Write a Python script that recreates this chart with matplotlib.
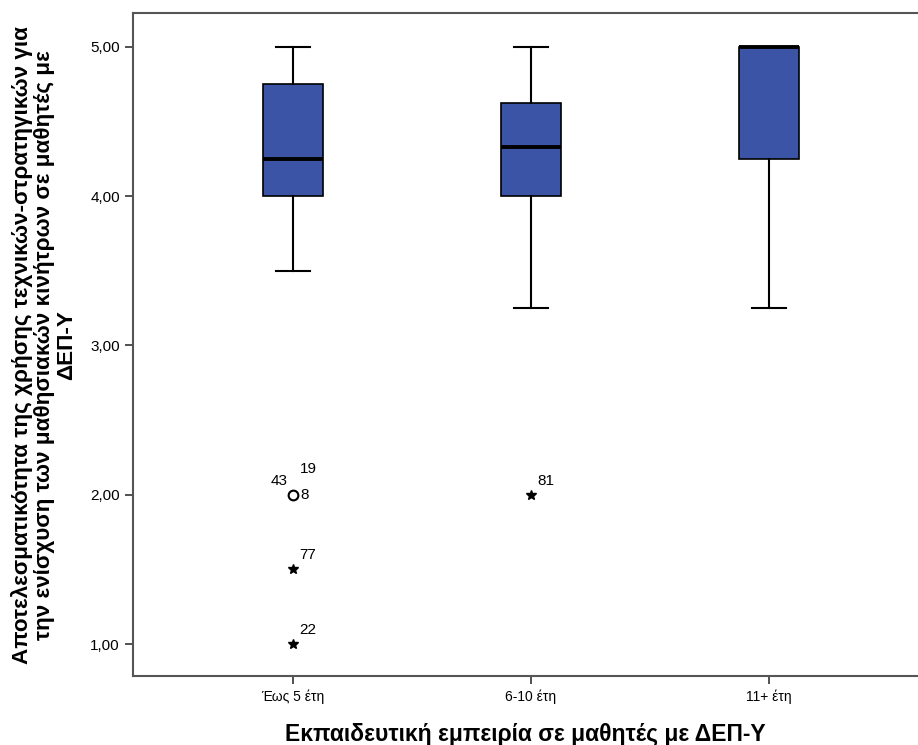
import matplotlib
matplotlib.use("Agg")
import matplotlib.pyplot as plt

categories = ["Έως 5 έτη", "6-10 έτη", "11+ έτη"]
medians = [4.25, 4.33, 5.00]
q1s = [4.00, 4.00, 4.25]
q3s = [4.75, 4.625, 5.00]
whisker_lo = [3.50, 3.25, 3.25]
whisker_hi = [5.00, 5.00, 5.00]

# outliers: (group index, value, label text list, marker)
outlier_group = [0, 0, 0, 1]
outlier_value = [2.0, 1.5, 1.0, 2.0]
outlier_kind = ["o", "*", "*", "*"]
outlier_labels = [["8", "19", "43"], ["77"], ["22"], ["81"]]

yticks = [1.0, 2.0, 3.0, 4.0, 5.0]
ytick_labels = ["1,00", "2,00", "3,00", "4,00", "5,00"]

plt.rcParams['font.family'] = ['Liberation Sans', 'DejaVu Sans']

fig = plt.figure(figsize=(9.18, 7.45), dpi=100)
ax = fig.add_axes([133/918, 1-676/745, (918-133)/918, (676-13)/745])

positions = [1, 2, 3]
stats = []
for i in range(3):
    stats.append(dict(med=medians[i], q1=q1s[i], q3=q3s[i],
                      whislo=whisker_lo[i], whishi=whisker_hi[i], fliers=[]))

ax.bxp(stats, positions=positions, widths=0.25, showfliers=False,
       patch_artist=True,
       boxprops=dict(facecolor="#3b54a5", edgecolor="black", linewidth=1.2),
       medianprops=dict(color="black", linewidth=2.8, solid_capstyle="butt"),
       whiskerprops=dict(color="black", linewidth=1.5),
       capprops=dict(color="black", linewidth=1.5),
       capwidths=0.14)

for g, v, k, labs in zip(outlier_group, outlier_value, outlier_kind, outlier_labels):
    x = positions[g]
    if k == "o":
        ax.plot([x], [v], marker="o", markersize=7, markerfacecolor="white",
                markeredgecolor="black", markeredgewidth=1.5, linestyle="none")
        ax.annotate(labs[0], (x, v), xytext=(7, 0), textcoords="offset pixels",
                    fontsize=11, ha="left", va="center")
        ax.annotate(labs[1], (x, v), xytext=(7, 26), textcoords="offset pixels",
                    fontsize=11, ha="left", va="center")
        ax.annotate(labs[2], (x, v), xytext=(-5, 14), textcoords="offset pixels",
                    fontsize=11, ha="right", va="center")
    else:
        ax.plot([x], [v], marker="*", markersize=7, color="black", linestyle="none")
        ax.annotate(labs[0], (x, v), xytext=(6, 14), textcoords="offset pixels",
                    fontsize=11, ha="left", va="center")

ax.set_xlim(0.328, 3.626)
ax.set_ylim(0.786, 5.227)
ax.set_xticks(positions)
ax.set_xticklabels(categories, fontsize=10)
ax.set_yticks(yticks)
ax.set_yticklabels(ytick_labels, fontsize=11)
ax.tick_params(direction="out", length=6, width=1.2, color="#333333")
for s in ["left", "top", "bottom"]:
    ax.spines[s].set_linewidth(1.5)
    ax.spines[s].set_color("#555555")
ax.spines["right"].set_visible(False)

fig.text(525/918, 1-735/745, "Εκπαιδευτική εμπειρία σε μαθητές με ΔΕΠ-Υ",
         fontsize=16.5, fontweight="bold", ha="center", va="center")
fig.text(44/918, 1-345/745,
         "Αποτελεσματικότητα της χρήσης τεχνικών-στρατηγικών για\n"
         "την ενίσχυση των μαθησιακών κινήτρων σε μαθητές με\nΔΕΠ-Υ",
         fontsize=16.2, fontweight="bold", rotation=90, ha="center",
         va="center", multialignment="center", linespacing=1.05)

fig.savefig("out.png", dpi=100)
